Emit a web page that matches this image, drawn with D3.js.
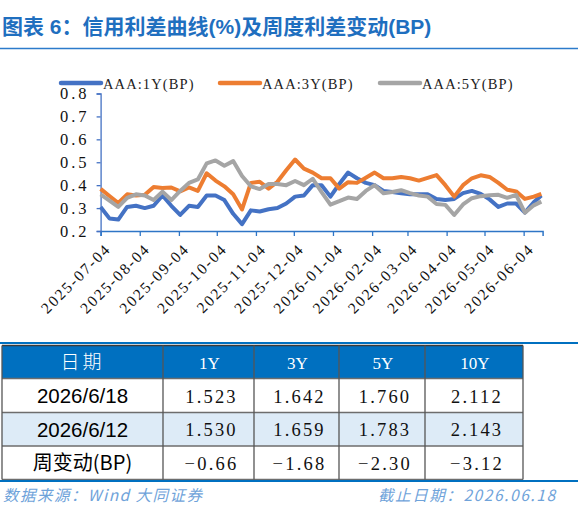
<!doctype html>
<html>
<head>
<meta charset="utf-8">
<script src="https://cdn.jsdelivr.net/npm/d3@7"></script>
<style>
  body { margin: 0; background: #fff; }
  svg { display: block; }
</style>
</head>
<body>
<svg width="578" height="514"></svg>
<script>
// weekly dates of the spread series
var dates = ["2025-07-04","2025-07-11","2025-07-18","2025-07-25","2025-08-01","2025-08-08","2025-08-15",
  "2025-08-22","2025-08-29","2025-09-05","2025-09-12","2025-09-19","2025-09-26","2025-10-03","2025-10-10",
  "2025-10-17","2025-10-24","2025-10-31","2025-11-07","2025-11-14","2025-11-21","2025-11-28","2025-12-05",
  "2025-12-12","2025-12-19","2025-12-26","2026-01-02","2026-01-09","2026-01-16","2026-01-23","2026-01-30",
  "2026-02-06","2026-02-13","2026-02-20","2026-02-27","2026-03-06","2026-03-13","2026-03-20","2026-03-27",
  "2026-04-03","2026-04-10","2026-04-17","2026-04-24","2026-05-01","2026-05-08","2026-05-15","2026-05-22",
  "2026-05-29","2026-06-05","2026-06-12","2026-06-18"];

var aaa1y = [0.305,0.255,0.25,0.305,0.31,0.30,0.31,0.355,0.31,0.27,0.31,0.305,0.355,0.355,0.335,0.275,0.23,
  0.29,0.285,0.295,0.30,0.32,0.35,0.355,0.40,0.40,0.35,0.405,0.455,0.43,0.41,0.40,0.375,0.37,0.365,0.36,
  0.36,0.36,0.34,0.335,0.34,0.365,0.375,0.362,0.338,0.305,0.32,0.32,0.28,0.325,0.355];

var aaa3y = [0.384,0.353,0.322,0.36,0.355,0.358,0.392,0.388,0.39,0.373,0.39,0.375,0.452,0.42,0.395,0.36,
  0.294,0.41,0.415,0.385,0.415,0.465,0.512,0.472,0.455,0.43,0.43,0.385,0.413,0.41,0.432,0.455,0.43,0.43,
  0.436,0.43,0.42,0.432,0.444,0.40,0.35,0.40,0.43,0.443,0.436,0.41,0.38,0.373,0.34,0.35,0.362];

var aaa5y = [0.36,0.333,0.305,0.345,0.36,0.355,0.335,0.372,0.335,0.375,0.41,0.425,0.495,0.508,0.485,0.505,
  0.44,0.395,0.383,0.405,0.405,0.40,0.418,0.40,0.428,0.37,0.315,0.33,0.346,0.34,0.375,0.40,0.365,0.37,
  0.378,0.365,0.355,0.35,0.318,0.314,0.27,0.316,0.343,0.352,0.356,0.358,0.345,0.358,0.28,0.312,0.328];

var seriesNames = ["AAA:1Y(BP)", "AAA:3Y(BP)", "AAA:5Y(BP)"];
var seriesColors = ["#4472C4", "#ED7D31", "#A5A5A5"];

var xTickLabels = ["2025-07-04","2025-08-04","2025-09-04","2025-10-04","2025-11-04","2025-12-04",
  "2026-01-04","2026-02-04","2026-03-04","2026-04-04","2026-05-04","2026-06-04"];
var yTicks = [0.2, 0.3, 0.4, 0.5, 0.6, 0.7, 0.8];

// table
var tableHead = ["日期", "1Y", "3Y", "5Y", "10Y"];
var rowLabels = ["2026/6/18", "2026/6/12", "周变动(BP)"];
var row0618 = ["1.523", "1.642", "1.760", "2.112"];
var row0612 = ["1.530", "1.659", "1.783", "2.143"];
var rowChange = ["-0.66", "-1.68", "-2.30", "-3.12"];

var serif = "'Liberation Serif','DejaVu Serif',serif";
var cjk = "'Noto Sans CJK SC','Noto Sans',sans-serif";
var blue = "#0070C0";

var svg = d3.select("svg");
var parse = d3.timeParse("%Y-%m-%d");

// title
svg.append("text")
  .attr("x", 2).attr("y", 34)
  .style("font-family", "'Liberation Sans','Noto Sans CJK SC',sans-serif")
  .style("font-weight", "bold").style("font-size", "21px")
  .style("fill", "#1F6FBF")
  .text("图表 6：信用利差曲线(%)及周度利差变动(BP)");
svg.append("line")
  .attr("x1", 0).attr("x2", 578).attr("y1", 48.5).attr("y2", 48.5)
  .style("stroke", "#2C7BCB").style("stroke-width", 1.5);

// chart scales
var x = d3.scaleTime()
  .domain([parse("2025-07-04"), parse("2026-06-19")])
  .range([100.6, 542.6]);
var y = d3.scaleLinear().domain([0.2, 0.8]).range([231, 93.5]);

var xAxis = svg.append("g")
  .attr("transform", "translate(0,231)")
  .call(d3.axisBottom(x).tickValues(xTickLabels.map(parse)).tickSize(5)
    .tickFormat(d3.timeFormat("%Y-%m-%d")));
xAxis.select(".domain").style("stroke", "#2E75C6").style("stroke-width", 1.5);
xAxis.selectAll(".tick line").style("stroke", "#2E75C6").style("stroke-width", 1.3);
xAxis.selectAll(".tick text")
  .style("font-family", serif).style("font-size", "15.5px").style("fill", "#111")
  .style("letter-spacing", "1.9px")
  .attr("text-anchor", "end")
  .attr("transform", "translate(7,15) rotate(-45)")
  .attr("dy", "0.35em").attr("y", 0).attr("x", 0);

var yAxis = svg.append("g")
  .attr("transform", "translate(100.6,0)")
  .call(d3.axisLeft(y).tickValues(yTicks).tickSize(4).tickFormat(d3.format(".1f")));
yAxis.select(".domain").style("stroke", "#4472C4").style("stroke-width", 1.3);
yAxis.selectAll(".tick line").style("stroke", "#4472C4").style("stroke-width", 1.3);
yAxis.selectAll(".tick text")
  .style("font-family", serif).style("font-size", "16.5px").style("fill", "#111")
  .style("letter-spacing", "3px")
  .attr("x", -11);

// lines
var allSeries = [aaa1y, aaa3y, aaa5y];
var line = d3.line()
  .x(function(d, i) { return x(parse(dates[i])); })
  .y(function(d) { return y(d); });

svg.append("g").selectAll("path")
  .data(allSeries)
  .enter().append("path")
  .attr("d", line)
  .style("fill", "none")
  .style("stroke", function(d, i) { return seriesColors[i]; })
  .style("stroke-width", 4)
  .style("stroke-linejoin", "round");

// legend
var legendX = [61, 220, 380];
var legend = svg.append("g").selectAll("g")
  .data(seriesNames)
  .enter().append("g")
  .attr("transform", function(d, i) { return "translate(" + legendX[i] + ",83)"; });
legend.append("line")
  .attr("x1", 0).attr("x2", 40)
  .style("stroke", function(d, i) { return seriesColors[i]; })
  .style("stroke-width", 4.5).style("stroke-linecap", "round");
legend.append("text")
  .attr("x", 42).attr("y", 5.5)
  .style("font-family", serif).style("font-size", "14.5px").style("fill", "#222")
  .style("letter-spacing", "1.1px")
  .text(function(d) { return d; });

// table
var colEdges = [2, 163, 254, 339, 425, 523];
var rowEdges = [345.5, 378.5, 412.5, 446, 479.5];
var table = svg.append("g");

table.append("rect")
  .attr("x", colEdges[0]).attr("y", rowEdges[0])
  .attr("width", colEdges[5] - colEdges[0]).attr("height", rowEdges[1] - rowEdges[0])
  .style("fill", blue);
table.append("rect")
  .attr("x", colEdges[0]).attr("y", rowEdges[2])
  .attr("width", colEdges[5] - colEdges[0]).attr("height", rowEdges[3] - rowEdges[2])
  .style("fill", "#DDEBF7");

// grid
rowEdges.forEach(function(ry, i) {
  table.append("line")
    .attr("x1", colEdges[0]).attr("x2", colEdges[5]).attr("y1", ry).attr("y2", ry)
    .style("stroke", i === 0 ? "#3b3b3b" : "#6d6d6d").style("stroke-width", 1.3);
});
colEdges.forEach(function(cx) {
  table.append("line")
    .attr("x1", cx).attr("x2", cx).attr("y1", rowEdges[0]).attr("y2", rowEdges[4])
    .style("stroke", "#555").style("stroke-width", 1.3);
});
// blue rules
[343, 481].forEach(function(ly) {
  table.append("line")
    .attr("x1", 0).attr("x2", 578).attr("y1", ly).attr("y2", ly)
    .style("stroke", blue).style("stroke-width", 2);
});

function cx(i) { return (colEdges[i] + colEdges[i + 1]) / 2; }
function cy(i) { return (rowEdges[i] + rowEdges[i + 1]) / 2; }

table.selectAll(".head")
  .data(tableHead)
  .enter().append("text")
  .attr("x", function(d, i) { return cx(i) + (i ? 1 : 0); })
  .attr("y", cy(0) + 6.5)
  .attr("text-anchor", "middle")
  .style("font-family", function(d, i) { return i ? serif : cjk; })
  .style("font-weight", "300")
  .style("font-size", function(d, i) { return i ? "17px" : "19px"; })
  .style("letter-spacing", function(d, i) { return i ? "0px" : "3px"; })
  .style("fill", "#fff")
  .text(function(d) { return d; });

var bodyRows = [row0618, row0612, rowChange];
bodyRows.forEach(function(vals, r) {
  table.append("text")
    .attr("x", cx(0)).attr("y", cy(r + 1) + 7.5)
    .attr("text-anchor", "middle")
    .style("font-family", r === 2 ? cjk : "'Liberation Sans',Arial,sans-serif")
    .style("font-size", r === 2 ? "20px" : "20.5px")
    .style("fill", "#000")
    .text(rowLabels[r]);
  table.selectAll(".v" + r)
    .data(vals)
    .enter().append("text")
    .attr("x", function(d, i) { return cx(i + 1) + 3; })
    .attr("y", cy(r + 1) + 7)
    .attr("text-anchor", "middle")
    .style("font-family", serif).style("font-size", "18.5px")
    .style("letter-spacing", "2.2px")
    .style("fill", "#111")
    .text(function(d) { return d.replace("-", "\u2212"); });
});

// footer
svg.append("text")
  .attr("x", 3).attr("y", 501)
  .attr("textLength", 199).attr("lengthAdjust", "spacing")
  .style("font-family", cjk).style("font-style", "italic")
  .style("font-size", "15.5px").style("fill", "#6FA3DA")
  .text("数据来源：Wind 大同证券");
svg.append("text")
  .attr("x", 378).attr("y", 501)
  .attr("textLength", 177).attr("lengthAdjust", "spacing")
  .style("font-family", cjk).style("font-style", "italic")
  .style("font-size", "15.5px").style("fill", "#6FA3DA")
  .text("截止日期：2026.06.18");
</script>
</body>
</html>
